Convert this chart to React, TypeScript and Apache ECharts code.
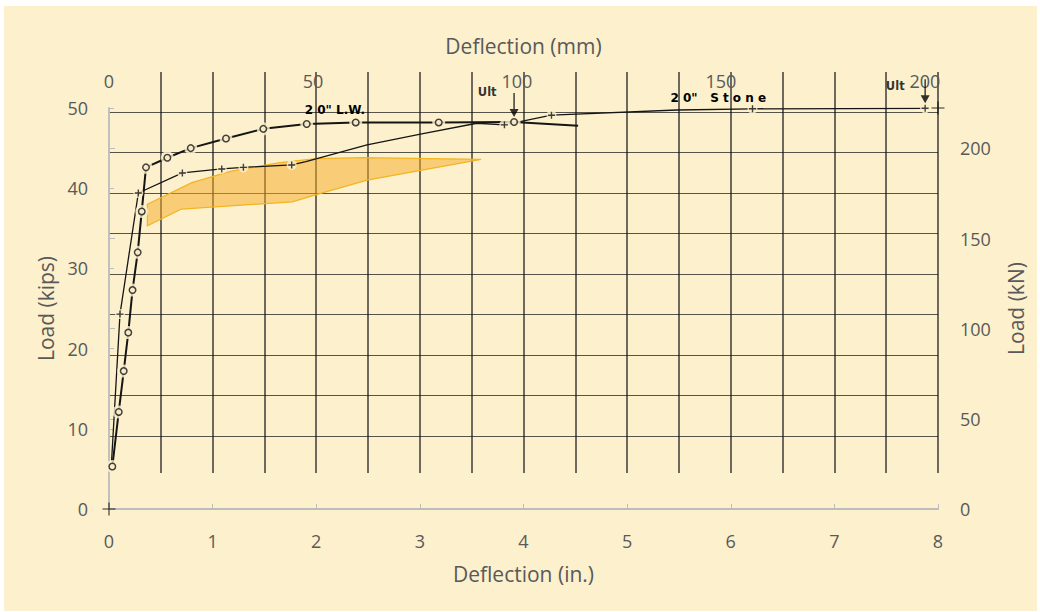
import React, { useEffect, useRef } from "react";
import * as echarts from "echarts";

// 20" lightweight-concrete panel: deflection (in.) vs load (kips)
const lwDeflection = [0.032, 0.094, 0.142, 0.186, 0.227, 0.277, 0.316, 0.357, 0.563, 0.789, 1.129, 1.489, 1.908, 2.381, 3.182, 3.909, 4.527];
const lwLoad = [5.3, 12.1, 17.2, 22.0, 27.3, 32.0, 37.1, 42.6, 43.8, 45.0, 46.2, 47.4, 48.0, 48.2, 48.2, 48.25, 47.8];
const lwMarked = [true, true, true, true, true, true, true, true, true, true, true, true, true, true, true, true, false];
const lwUltIndex = 15;

// 20" stone-concrete panel
const stoneDeflection = [0.025, 0.106, 0.283, 0.708, 1.088, 1.297, 1.763, 1.9, 2.49, 3.03, 3.55, 3.816, 4.27, 5.48, 6.21, 7.876];
const stoneLoad = [6.0, 24.3, 39.4, 41.9, 42.4, 42.6, 42.9, 43.3, 45.4, 46.8, 48.1, 47.9, 49.1, 49.75, 49.9, 49.96];
const stoneMarked = [false, true, true, true, true, true, true, false, false, false, false, true, true, false, true, true];
const stoneUltIndex = 15;

// Shaded envelope (upper edge left→right, lower edge right→left)
const bandUpperDeflection = [0.37, 0.8, 1.17, 1.65, 2.0, 2.45, 3.59];
const bandUpperLoad = [38.0, 40.7, 42.1, 43.2, 43.7, 43.8, 43.6];
const bandLowerDeflection = [2.49, 2.0, 1.77, 0.7, 0.37];
const bandLowerLoad = [41.0, 39.2, 38.3, 37.4, 35.3];

// Registration crosses on the plotted sheet
const crossDeflection = [0, 8];
const crossLoad = [0, 50];

const IN_MAX = 8;
const KIPS_MAX = 50;
const MM_PER_IN = 25.4;
const KN_PER_KIP = 4.448;

const CREAM = "#fcf0cd";
const INK = "#151515";
const AXIS_GRAY = "#bdbdbd";
const LABEL_GRAY = "#595959";
const FONT = "Open Sans";
const NOTE_FONT = "DejaVu Sans";

const pairs = (xs: number[], ys: number[]) => xs.map((x, i) => [x, ys[i]]);

export default function App() {
  const ref = useRef<HTMLDivElement>(null);

  useEffect(() => {
    if (!ref.current) return;
    const chart = echarts.init(ref.current, null, { renderer: "svg" });

    const lwPoints = pairs(lwDeflection, lwLoad);
    const stonePoints = pairs(stoneDeflection, stoneLoad);
    const lwMarkers = lwPoints.filter((_, i) => lwMarked[i]);
    const stoneMarkers = stonePoints.filter((_, i) => stoneMarked[i]);
    const bandPolygon = [
      ...pairs(bandUpperDeflection, bandUpperLoad),
      ...pairs(bandLowerDeflection, bandLowerLoad),
    ];

    const tickLabel = { color: LABEL_GRAY, fontFamily: FONT, fontSize: 18 };
    const nameStyle = { color: LABEL_GRAY, fontFamily: FONT, fontSize: 21 };
    const sheetLine = { color: INK, width: 1.4, opacity: 0.82 };
    const hidden = {
      axisLine: { show: false },
      axisTick: { show: false },
      axisLabel: { show: false },
    };
    const noteLabel = {
      color: "#000",
      fontFamily: NOTE_FONT,
      fontWeight: "bold",
      fontSize: 12,
    };

    const plusPath = "path://M4,0H6V4H10V6H6V10H4V6H0V4H4Z";
    const crossPath = "path://M5.5,0H6.5V5.5H12V6.5H6.5V12H5.5V6.5H0V5.5H5.5Z";
    const arrowPath = "path://M3.8,0H5.2V16H9L4.5,24L0,16H3.8Z";

    chart.setOption({
      animation: false,
      backgroundColor: CREAM,
      grid: [
        { left: 109, right: 102, top: 108, bottom: 103 },
        { left: 160.8, right: 102, top: 72, bottom: 139 },
        { left: 109, right: 102, top: 112, bottom: 176 },
      ],
      xAxis: [
        {
          type: "value",
          gridIndex: 0,
          position: "bottom",
          min: 0,
          max: IN_MAX,
          interval: 1,
          name: "Deflection (in.)",
          nameLocation: "middle",
          nameGap: 54,
          nameTextStyle: nameStyle,
          axisLine: { show: true, lineStyle: { color: AXIS_GRAY, width: 1.5 } },
          axisTick: { show: true, inside: true, length: 5, lineStyle: { color: AXIS_GRAY } },
          axisLabel: { ...tickLabel, margin: 23 },
          splitLine: { show: false },
        },
        {
          type: "value",
          gridIndex: 0,
          position: "top",
          min: 0,
          max: IN_MAX * MM_PER_IN,
          interval: 50,
          name: "Deflection (mm)",
          nameLocation: "middle",
          nameGap: 52,
          nameTextStyle: nameStyle,
          axisLine: { show: true, lineStyle: { color: AXIS_GRAY, width: 2 } },
          axisTick: { show: false },
          axisLabel: { ...tickLabel, margin: 18, showMaxLabel: false },
          splitLine: { show: false },
        },
        {
          type: "value",
          gridIndex: 1,
          min: 0.5,
          max: IN_MAX,
          interval: 0.5,
          ...hidden,
          splitLine: { show: true, lineStyle: { ...sheetLine, width: 1.5 } },
        },
        {
          type: "value",
          gridIndex: 2,
          min: 0,
          max: IN_MAX,
          ...hidden,
          splitLine: { show: false },
        },
      ],
      yAxis: [
        {
          type: "value",
          gridIndex: 0,
          position: "left",
          min: 0,
          max: KIPS_MAX,
          interval: 10,
          name: "Load (kips)",
          nameLocation: "middle",
          nameGap: 53,
          nameTextStyle: nameStyle,
          axisLine: { show: true, lineStyle: { color: AXIS_GRAY, width: 1.5 } },
          axisTick: { show: true, inside: true, length: 5, lineStyle: { color: AXIS_GRAY } },
          axisLabel: { ...tickLabel, margin: 21 },
          splitLine: { show: false },
        },
        {
          type: "value",
          gridIndex: 0,
          position: "right",
          min: 0,
          max: KIPS_MAX * KN_PER_KIP,
          interval: 50,
          name: "Load (kN)",
          nameLocation: "middle",
          nameGap: 67,
          nameTextStyle: nameStyle,
          axisLine: { show: true, lineStyle: { color: AXIS_GRAY, width: 1.5 } },
          axisTick: { show: true, inside: false, length: 6, lineStyle: { color: AXIS_GRAY } },
          axisLabel: { ...tickLabel, margin: 22, showMaxLabel: false },
          splitLine: { show: false },
        },
        {
          type: "value",
          gridIndex: 1,
          min: 0,
          max: 1,
          ...hidden,
          splitLine: { show: false },
        },
        {
          type: "value",
          gridIndex: 2,
          min: 0,
          max: 40,
          interval: 5,
          ...hidden,
          splitLine: { show: true, lineStyle: { ...sheetLine, width: 1.2, opacity: 0.72 } },
        },
      ],
      series: [
        {
          type: "custom",
          name: "envelope",
          coordinateSystem: "cartesian2d",
          xAxisIndex: 0,
          yAxisIndex: 0,
          data: [[0, 0]],
          clip: false,
          silent: true,
          z: 2,
          renderItem: (_params: any, api: any) => ({
            type: "polygon",
            shape: { points: bandPolygon.map((p) => api.coord(p)) },
            style: { fill: "rgba(246,170,35,0.5)", stroke: "#f3b420", lineWidth: 1.2 },
          }),
        },
        {
          type: "line",
          name: '20" L.W.',
          data: lwPoints,
          showSymbol: false,
          symbol: "none",
          silent: true,
          z: 3,
          lineStyle: { color: INK, width: 2 },
          markPoint: {
            silent: true,
            symbol: "rect",
            symbolSize: 1,
            itemStyle: { color: "rgba(0,0,0,0)" },
            label: { show: true, position: "inside", formatter: "{b}", ...noteLabel },
            data: [{ name: '2 0" L.W.', coord: [2.18, 49.75] }],
          },
        },
        {
          type: "line",
          name: '20" Stone',
          data: stonePoints,
          showSymbol: false,
          symbol: "none",
          silent: true,
          z: 3,
          lineStyle: { color: INK, width: 1.3 },
        },
        {
          type: "scatter",
          name: "lw-gaps",
          data: lwMarkers,
          symbol: "circle",
          symbolSize: 13,
          silent: true,
          z: 4,
          itemStyle: { color: CREAM },
        },
        {
          type: "scatter",
          name: "stone-gaps",
          data: stoneMarkers,
          symbol: "circle",
          symbolSize: 10,
          silent: true,
          z: 4,
          itemStyle: { color: CREAM },
        },
        {
          type: "scatter",
          name: "lw-markers",
          data: lwMarkers,
          symbol: "circle",
          symbolSize: 6.5,
          silent: true,
          z: 5,
          itemStyle: { color: CREAM, borderColor: INK, borderWidth: 1.5 },
        },
        {
          type: "scatter",
          name: "stone-markers",
          data: stoneMarkers,
          symbol: plusPath,
          symbolSize: 7,
          silent: true,
          z: 5,
          itemStyle: { color: INK },
        },
        {
          type: "scatter",
          name: "ultimate",
          data: [
            { value: lwPoints[lwUltIndex], label: { offset: [-9, -13] } },
            { value: stonePoints[stoneUltIndex], label: { offset: [-12, -5] } },
          ],
          symbol: arrowPath,
          symbolSize: [9, 24],
          symbolOffset: [0, -17],
          silent: true,
          z: 6,
          itemStyle: { color: "#000" },
          label: {
            show: true,
            position: "left",
            distance: 4,
            formatter: "Ult",
            ...noteLabel,
            fontSize: 11.5,
          },
        },
        {
          type: "scatter",
          name: "registration",
          data: pairs(crossDeflection, crossLoad),
          symbol: crossPath,
          symbolSize: 13,
          silent: true,
          z: 6,
          itemStyle: { color: "#000" },
        },
      ],
    });

    // The stone curve's name sits just above the plotting area.
    const [sx, sy] = chart.convertToPixel({ gridIndex: 0 }, [5.88, 51.2]) as number[];
    chart.setOption({
      graphic: [
        {
          type: "text",
          x: sx,
          y: sy,
          z: 100,
          silent: true,
          style: {
            text: '2 0"   S t o n e',
            fill: "#000",
            font: `bold 12px "${NOTE_FONT}"`,
            align: "center",
            verticalAlign: "middle",
          },
        },
      ],
    });

    return () => chart.dispose();
  }, []);

  return (
    <div style={{ position: "fixed", left: 0, top: 0, width: 1040, height: 612, background: "#ffffff" }}>
      <div
        ref={ref}
        style={{ width: 1040, height: 612, clipPath: "inset(6px 3px 1px 4px)" }}
      />
    </div>
  );
}
